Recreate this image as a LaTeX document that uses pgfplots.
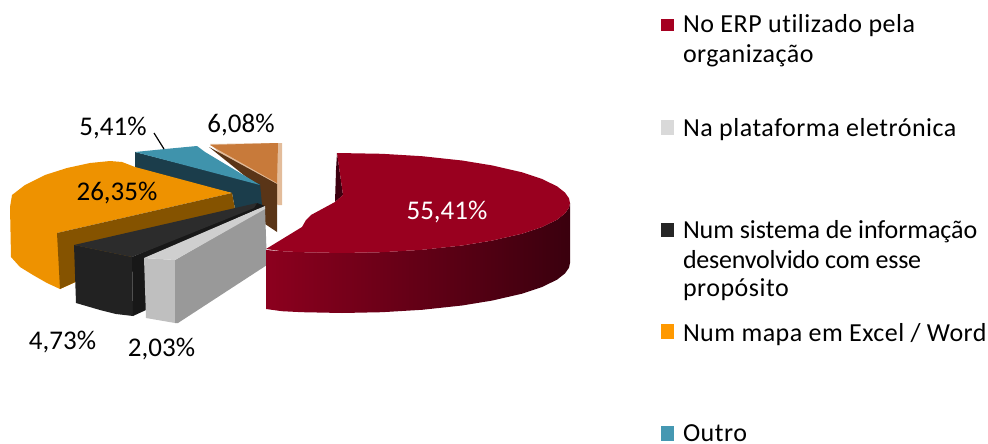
\documentclass[border=0pt]{standalone}
\usepackage{pgfplots}
\pgfplotsset{compat=1.18}
\usepackage{fontspec}
\setmainfont{Carlito}[Ligatures=NoCommon]
\definecolor{redtop}{HTML}{99001F}
\definecolor{redA}{HTML}{8C001E}
\definecolor{redB}{HTML}{3A000E}
\definecolor{redin}{HTML}{3C0010}
\definecolor{ortop}{HTML}{EE9200}
\definecolor{orin}{HTML}{855300}
\definecolor{blktop}{HTML}{2C2C2C}
\definecolor{blkside}{HTML}{222222}
\definecolor{blkin}{HTML}{181818}
\definecolor{grytop}{HTML}{CFCFCF}
\definecolor{gryfront}{HTML}{BFBFBF}
\definecolor{gryin}{HTML}{999999}
\definecolor{teatop}{HTML}{3F93AC}
\definecolor{teain}{HTML}{1B3D4B}
\definecolor{brntop}{HTML}{C87A3A}
\definecolor{brnin}{HTML}{5A3517}
\definecolor{brnedge}{HTML}{E3BC9A}
\definecolor{keyred}{HTML}{A50021}
\definecolor{keygry}{HTML}{D9D9D9}
\definecolor{keyblk}{HTML}{262626}
\definecolor{keyora}{HTML}{FF9900}
\definecolor{keytea}{HTML}{4598B2}
\newcommand\lbl{\fontsize{27bp}{27bp}\selectfont}
\newcommand\lgd[1][2]{\fontsize{26bp}{26bp}\selectfont\addfontfeature{LetterSpace=#1}}
\begin{document}
\begin{tikzpicture}
\useasboundingbox (0,0) rectangle (988bp,444bp);
\begin{axis}[at={(0,0)},anchor=south west,scale only axis,width=988bp,height=444bp,
  xmin=0,xmax=988,ymin=0,ymax=444,y dir=reverse,hide axis,clip=false]
% small brown slice behind the others
\addplot[draw=none,fill=brnedge] coordinates {(210,144)(278,143)(282,143)(282,205)(278,205)} --cycle;
\addplot[draw=none,fill=brnin] coordinates {(209,147)(277,184)(277,232)(262,222)(250,180)} --cycle;
\addplot[draw=none,fill=brntop] coordinates {(210,145)(278,143)(277,183)} --cycle;
% Outro
\addplot[draw=none,fill=teain] coordinates {(135,152)(260,184)(262,205)(235,209)(232,193)(135,170)} --cycle;
\addplot[draw=none,fill=teatop] coordinates {(135,152)(165,149)(197,146)(205,152)(235,170)(260,185)} --cycle;
% Excel / Word
\addplot[draw=none,fill=ortop] coordinates {(232,193)(135,167)(122,162)(110,161)(90,163)(67,168)(45,175)(25,185)(12,195)(10,207)(11,257)(20,267)(33,275)(47,283)(60,289)(80,280)(57,233)} --cycle;
\addplot[draw=none,fill=orin] coordinates {(57,233)(232,193)(235,209)(60,289)} --cycle;
% sistema de informacao
\addplot[draw=none,fill=blkside] coordinates {(74,245)(76,303)(100,310)(116,314)(133,316)(132,257)} --cycle;
\addplot[draw=none,fill=blkin] coordinates {(132,257)(133,316)(146,310)(146,258)(265,206)(257,203)} --cycle;
\addplot[draw=none,fill=blktop] coordinates {(74,245)(257,203)(254,208)(132,257)} --cycle;
% plataforma
\addplot[draw=none,fill=gryfront] coordinates {(144,258)(146,318)(175,323)(175,260)} --cycle;
\addplot[draw=none,fill=gryin] coordinates {(175,260)(265,208)(267,265)(178,323)(175,323)} --cycle;
\addplot[draw=none,fill=grytop] coordinates {(144,258)(265,206)(265,209)(175,260)} --cycle;
% ERP
\addplot[draw=none,fill=redin] coordinates {(337,153)(343,195)(335,202)(336,170)} --cycle;
\addplot[draw=none,left color=redA,right color=redB] coordinates {(266,250)(282,251.2)(302,252.2)(342,253)(382,252.2)(422,249.8)(462,245.5)(492,240.6)(522,233.7)(542,227)(557,219.7)(565,213.4)(569,207.7)(570,203)(570,263)(569,267.7)(565,273.4)(557,279.7)(542,287)(522,293.7)(492,300.6)(462,305.5)(422,309.8)(382,312.2)(342,313)(302,312.2)(282,311.2)(266,309)} --cycle;
\addplot[draw=none,fill=redtop] coordinates {(337,153)(382,153.8)(422,156.2)(462,160.5)(492,165.4)(522,172.3)(542,179)(557,186.3)(565,192.6)(569,198.3)(570,203)(569,207.7)(565,213.4)(557,219.7)(542,227)(522,233.7)(492,240.6)(462,245.5)(422,249.8)(382,252.2)(342,253)(302,252.2)(282,251.2)(266,249)(302,227)(306,220)(311,215)(335,202)(343,195)} --cycle;
% leader line
\addplot[black,line width=1.2bp] coordinates {(154,133)(164,149)};
% value labels
\node[anchor=base,text=white] at (axis cs:447,219) {\lbl 55,41\%};
\node[anchor=base] at (axis cs:117,200.5) {\lbl 26,35\%};
\node[anchor=base] at (axis cs:113,135) {\lbl 5,41\%};
\node[anchor=base] at (axis cs:241,132) {\lbl 6,08\%};
\node[anchor=base] at (axis cs:62.5,349) {\lbl 4,73\%};
\node[anchor=base] at (axis cs:161.5,356) {\lbl 2,03\%};
% legend keys
\addplot[draw=none,fill=keyred] coordinates {(661,19)(674,19)(674,31)(661,31)} --cycle;
\addplot[draw=none,fill=keygry] coordinates {(661,120)(674,120)(674,135)(661,135)} --cycle;
\addplot[draw=none,fill=keyblk] coordinates {(661,223)(674,223)(674,237)(661,237)} --cycle;
\addplot[draw=none,fill=keyora] coordinates {(661,324)(674,324)(674,339)(661,339)} --cycle;
\addplot[draw=none,fill=keytea] coordinates {(661,426)(674,426)(674,441)(661,441)} --cycle;
% legend text
\tikzset{every node/.style={anchor=base west,inner sep=0pt,outer sep=0pt}}
\node at (axis cs:683,33) {\lgd No ERP utilizado pela};
\node at (axis cs:683,63) {\lgd organização};
\node at (axis cs:683,136) {\lgd Na plataforma eletrónica};
\node at (axis cs:683,238) {\lgd[-0.3] Num sistema de informação};
\node at (axis cs:683,268) {\lgd[-0.9] desenvolvido com esse};
\node at (axis cs:683,296) {\lgd propósito};
\node at (axis cs:683,341) {\lgd[1.8] Num mapa em Excel / Word};
\node at (axis cs:683,441.5) {\lgd Outro};
\end{axis}
\end{tikzpicture}
\end{document}
